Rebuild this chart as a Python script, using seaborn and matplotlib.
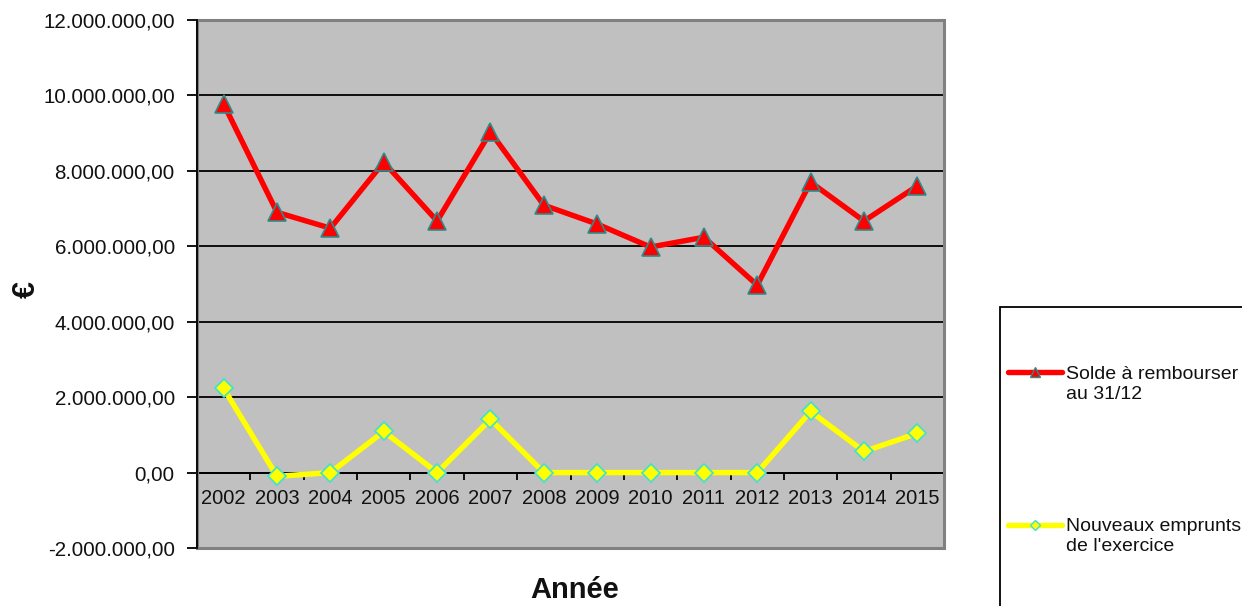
import matplotlib
matplotlib.use("Agg")
import matplotlib.pyplot as plt
import seaborn as sns
from matplotlib.ticker import FuncFormatter, FixedLocator
from matplotlib.lines import Line2D
from matplotlib.patches import Rectangle
from matplotlib.legend_handler import HandlerLine2D

years = list(range(2002, 2016))
solde = [9770000, 6900000, 6480000, 8230000, 6670000, 9030000, 7090000,
         6590000, 5980000, 6240000, 4970000, 7700000, 6670000, 7600000]
emprunts = [2230000, -100000, 0, 1090000, 0, 1410000, 0,
            0, 0, 0, 0, 1620000, 560000, 1040000]
label_solde = "Solde à rembourser\nau 31/12"
label_emprunts = "Nouveaux emprunts\nde l'exercice"

sns.set_style("white")
plt.rcParams['font.family'] = ['Liberation Sans', 'DejaVu Sans']
plt.rcParams['text.color'] = '#111111'
plt.rcParams['axes.labelcolor'] = '#111111'
plt.rcParams['xtick.labelcolor'] = '#111111'
plt.rcParams['ytick.labelcolor'] = '#111111'


def euro_fmt(v, pos):
    s = f"{v:,.2f}"
    return s.replace(",", " ").replace(".", ",").replace(" ", ".")


# legend handle drawn level with the first line of a two-line label
class TopLine(HandlerLine2D):
    def create_artists(self, legend, orig_handle, xdescent, ydescent,
                       width, height, fontsize, trans):
        arts = super().create_artists(legend, orig_handle, xdescent, ydescent,
                                      width, height, fontsize, trans)
        for a in arts:
            a.set_ydata([y + 0.6 * fontsize for y in a.get_ydata()])
        return arts


fig = plt.figure(figsize=(12.42, 6.06), dpi=100)
ax = fig.add_axes([197 / 1242, 1 - 548 / 606, (944 - 197) / 1242, (548 - 20) / 606])
ax.set_facecolor('#C0C0C0')

red_kw = dict(color='#FF0000', lw=3.9, marker='^', markersize=13,
              markeredgecolor='#2E8B8B', markeredgewidth=1.2)
yel_kw = dict(color='#FFFF00', lw=3.9, marker='D', markersize=9,
              markeredgecolor='#40E0D0', markeredgewidth=1.2)
sns.lineplot(x=years, y=solde, ax=ax, zorder=4, **red_kw)
sns.lineplot(x=years, y=emprunts, ax=ax, zorder=3, **yel_kw)

ax.set_xlim(2001.5, 2015.5)
ax.set_ylim(-2000000, 12000000)
ax.yaxis.set_major_locator(FixedLocator(range(-2000000, 12000001, 2000000)))
ax.yaxis.set_major_formatter(FuncFormatter(euro_fmt))
ax.set_xticks(years)
ax.set_xticklabels([str(y) for y in years])
ax.xaxis.set_minor_locator(FixedLocator([y - 0.5 for y in years] + [2015.5]))

ax.yaxis.grid(True, color='black', lw=1.3)
ax.set_axisbelow(True)

for side in ['top', 'right']:
    ax.spines[side].set_visible(False)
ax.spines['bottom'].set_position(('data', 0))
ax.spines['bottom'].set_color('black')
ax.spines['bottom'].set_linewidth(1.3)
ax.spines['left'].set_color('black')
ax.spines['left'].set_linewidth(1.3)
ax.spines['left'].set_zorder(6)
ax.add_patch(Rectangle((0, 0), 1, 1, transform=ax.transAxes, fill=False,
                       edgecolor='#808080', lw=2.2, zorder=5, clip_on=False))

ax.tick_params(axis='y', which='major', direction='out', length=7, width=1.3,
               color='black', labelsize=14.8, pad=9, left=True)
ax.tick_params(axis='x', which='major', length=0, labelsize=14.5, pad=11.5)
ax.tick_params(axis='x', which='minor', direction='out', length=5, width=1.3,
               color='black', bottom=True)

ax.set_xlabel("Année", fontsize=21, fontweight='bold')
ax.xaxis.set_label_coords(0.506, -0.053)
ax.set_ylabel("€", fontsize=22, fontweight='bold')
ax.yaxis.set_label_coords(-0.208, 0.489)

fig.add_artist(Rectangle((1000 / 1242, -0.05), 0.3, (606 - 307) / 606 + 0.05,
                         transform=fig.transFigure, fill=False,
                         edgecolor='black', lw=1.3))
handles = [
    Line2D([], [], color='#FF0000', lw=3.9, marker='^', markersize=7,
           markeredgecolor='#2E8B8B', markeredgewidth=1),
    Line2D([], [], color='#FFFF00', lw=3.9, marker='D', markersize=5,
           markeredgecolor='#40E0D0', markeredgewidth=1),
]
fig.legend(handles, [label_solde, label_emprunts], loc='upper left',
           bbox_to_anchor=(1008 / 1242, 1 - 366 / 606), frameon=False,
           fontsize=14, handlelength=2.8, handletextpad=0.2,
           labelspacing=5.95, borderpad=0, borderaxespad=0,
           handler_map={Line2D: TopLine()})

fig.savefig("out.png", dpi=100)
